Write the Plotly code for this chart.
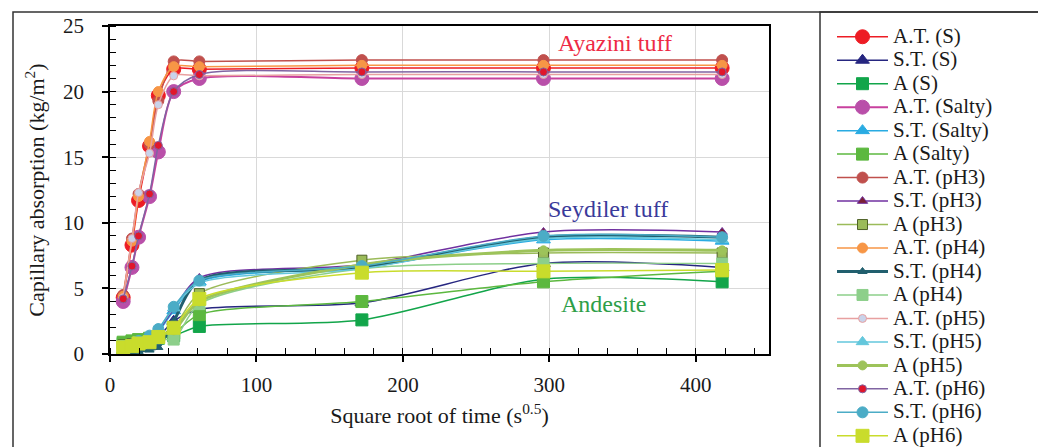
import plotly.graph_objects as go

# ---------------- data ----------------
x_time = [9, 15, 19.5, 27, 33, 43.5, 61, 172, 296, 418]

series_names = [
    "A.T. (S)", "S.T. (S)", "A (S)",
    "A.T. (Salty)", "S.T. (Salty)", "A (Salty)",
    "A.T. (pH3)", "S.T. (pH3)", "A (pH3)",
    "A.T. (pH4)", "S.T. (pH4)", "A (pH4)",
    "A.T. (pH5)", "S.T. (pH5)", "A (pH5)",
    "A.T. (pH6)", "S.T. (pH6)", "A (pH6)",
]

at_s     = [4.3, 8.3, 11.7, 15.85, 19.7, 21.7, 21.7, 21.8, 21.8, 21.8]
st_s     = [0.2, 0.4, 0.6, 0.9, 1.3, 2.5, 3.4, 3.9, 6.9, 6.6]
a_s      = [0.8, 0.9, 1.0, 1.1, 1.2, 1.4, 2.1, 2.6, 5.7, 5.5]
at_salty = [4.0, 6.6, 8.9, 12.0, 15.4, 20.0, 21.0, 21.0, 21.0, 21.0]
st_salty = [0.3, 0.6, 0.9, 1.2, 1.7, 3.3, 5.5, 6.6, 8.7, 8.6]
a_salty  = [0.9, 1.0, 1.1, 1.2, 1.3, 1.6, 3.0, 4.0, 5.5, 6.3]
at_ph3   = [4.5, 8.8, 12.2, 16.0, 19.3, 22.3, 22.3, 22.4, 22.4, 22.4]
st_ph3   = [0.2, 0.5, 0.8, 1.2, 1.8, 3.4, 5.8, 6.8, 9.3, 9.3]
a_ph3    = [0.7, 0.8, 0.9, 1.1, 1.4, 2.0, 4.6, 7.15, 7.7, 7.7]
at_ph4   = [4.4, 8.6, 12.0, 16.2, 20.0, 21.9, 21.9, 22.0, 22.0, 22.0]
st_ph4   = [0.0, 0.1, 0.2, 0.3, 0.5, 2.5, 5.6, 6.6, 8.9, 8.9]
a_ph4    = [0.6, 0.7, 0.9, 1.0, 1.2, 1.1, 3.8, 6.5, 6.9, 6.9]
at_ph5   = [4.3, 8.8, 12.3, 15.3, 19.0, 21.2, 21.2, 21.3, 21.3, 21.3]
st_ph5   = [0.3, 0.6, 1.0, 1.3, 1.9, 3.5, 5.4, 6.5, 8.8, 8.7]
a_ph5    = [0.6, 0.8, 1.0, 1.1, 1.4, 1.8, 4.0, 6.8, 7.9, 7.9]
at_ph6   = [4.2, 6.7, 9.0, 12.2, 15.9, 20.0, 21.3, 21.5, 21.5, 21.5]
st_ph6   = [0.3, 0.7, 1.0, 1.4, 1.9, 3.6, 5.6, 6.7, 9.0, 8.9]
a_ph6    = [0.5, 0.6, 0.8, 0.9, 1.3, 2.0, 4.2, 6.2, 6.3, 6.4]

series_values = [
    at_s, st_s, a_s,
    at_salty, st_salty, a_salty,
    at_ph3, st_ph3, a_ph3,
    at_ph4, st_ph4, a_ph4,
    at_ph5, st_ph5, a_ph5,
    at_ph6, st_ph6, a_ph6,
]

x_ticks = [0, 100, 200, 300, 400]
y_ticks = [0, 5, 10, 15, 20, 25]

# ---------------- styles ----------------
# (line colour, line width, marker symbol, marker size, marker fill, marker border)
styles = [
    ("#ED1C24", 1.5, "circle", 14, "#ED1C24", "#ED1C24"),
    ("#262680", 1.5, "triangle-up", 12, "#262680", "#262680"),
    ("#12A54A", 1.5, "square", 12, "#12A54A", "#12A54A"),
    ("#C8409E", 2.0, "circle", 14, "#B94FA9", "#B94FA9"),
    ("#29ABE2", 1.5, "triangle-up", 12, "#29ABE2", "#29ABE2"),
    ("#5CB83F", 1.5, "square", 12, "#5CB83F", "#5CB83F"),
    ("#C0504D", 1.5, "circle", 11, "#C0504D", "#C0504D"),
    ("#7030A0", 1.5, "triangle-up", 9, "#7B2035", "#7030A0"),
    ("#9BBB59", 1.5, "square", 10, "#9BBB59", "#4F6228"),
    ("#F79646", 1.5, "circle", 10, "#F79646", "#F79646"),
    ("#215F6E", 3.0, "triangle-up", 8, "#215F6E", "#215F6E"),
    ("#8DCF8A", 1.5, "square", 11, "#8DCF8A", "#8DCF8A"),
    ("#E8A0A0", 1.5, "circle", 8, "#C9D3EA", "#E8A0A0"),
    ("#63C7DC", 1.5, "triangle-up", 11, "#63C7DC", "#63C7DC"),
    ("#9DC35A", 3.0, "circle", 9, "#9DC35A", "#9DC35A"),
    ("#8064A2", 1.5, "circle", 8, "#E0162B", "#8064A2"),
    ("#4BACC6", 1.5, "circle", 11, "#4BACC6", "#4BACC6"),
    ("#C9DC2C", 1.5, "square", 13, "#C9DC2C", "#C9DC2C"),
]

SERIF = "Liberation Serif"
LEG_TEXT_PX = 21

fig = go.Figure()
for name, vals, st in zip(series_names, series_values, styles):
    lc, lw, sym, ms, mf, mb = st
    fig.add_trace(go.Scatter(
        x=x_time, y=vals, mode="lines+markers",
        name='<span style="font-size:%dpx">%s</span>' % (LEG_TEXT_PX, name),
        line=dict(color=lc, width=lw, shape="spline", smoothing=0.8),
        marker=dict(symbol=sym, size=ms, color=mf, line=dict(color=mb, width=1)),
    ))

# page body has an 8 px margin, so the figure is drawn 8 px in from the window corner
OFF = 8
W, H = 1046 - OFF, 447 - OFF
L, R, T, B = 110 - OFF, 769 - OFF, 26 - OFF, 354 - OFF
pw, ph = R - L, B - T

def px_x(p):
    return (p - OFF - L) / pw

def px_y(p):
    return (B - (p - OFF)) / ph

fig.update_layout(
    width=W, height=H,
    margin=dict(l=L, r=W - R, t=T, b=H - B, pad=0, autoexpand=False),
    paper_bgcolor="white", plot_bgcolor="white",
    font=dict(family=SERIF, size=21, color="#1a1a1a"),
    showlegend=True,
    legend=dict(
        xref="container", yref="container",
        x=(832 - OFF) / W, y=1 - (20 - OFF) / H, xanchor="left", yanchor="top",
        font=dict(family=SERIF, size=15.75, color="#1a1a1a"),
        itemwidth=51, tracegroupgap=0, bgcolor="rgba(0,0,0,0)",
        borderwidth=0, itemclick=False,
    ),
    xaxis=dict(
        range=[0, 450], tickvals=x_ticks, ticks="outside", ticklen=6,
        tickcolor="black", tickwidth=1.5, ticklabelstandoff=5,
        showline=True, linecolor="black", linewidth=1.5, mirror=True,
        showgrid=True, gridcolor="#D9D9D9", gridwidth=1.2, zeroline=False,
        minor=dict(dtick=20, ticks="inside", ticklen=6, tickcolor="black",
                   tickwidth=1.2, showgrid=False),
        title=dict(text="Square root of time (s<sup>0.5</sup>)", standoff=12,
                   font=dict(family=SERIF, size=22)),
        tickfont=dict(family=SERIF, size=21),
    ),
    yaxis=dict(
        range=[0, 25], tickvals=y_ticks, ticks="outside", ticklen=6,
        tickcolor="black", tickwidth=1.5, ticklabelstandoff=14,
        showline=True, linecolor="black", linewidth=1.5, mirror=True,
        showgrid=True, gridcolor="#D9D9D9", gridwidth=1.2, zeroline=False,
        minor=dict(dtick=1, ticks="inside", ticklen=6, tickcolor="black",
                   tickwidth=1.2, showgrid=False),
        title=dict(text="Capillary absorption (kg/m<sup>2</sup>)", standoff=12,
                   font=dict(family=SERIF, size=22)),
        tickfont=dict(family=SERIF, size=21),
    ),
    shapes=[
        dict(type="rect", xref="paper", yref="paper",
             x0=px_x(13), x1=px_x(1043), y0=px_y(470), y1=px_y(12),
             line=dict(color="#333333", width=1.5), fillcolor="rgba(0,0,0,0)",
             layer="below"),
        dict(type="rect", xref="paper", yref="paper",
             x0=px_x(820), x1=px_x(1043), y0=px_y(470), y1=px_y(12),
             line=dict(color="#333333", width=1.5), fillcolor="rgba(0,0,0,0)",
             layer="below"),
    ],
    annotations=[
        dict(x=345, y=23.7, xref="x", yref="y", text="Ayazini tuff",
             showarrow=False, font=dict(family=SERIF, size=24, color="#EE2A45")),
        dict(x=340, y=11.05, xref="x", yref="y", text="Seydiler tuff",
             showarrow=False, font=dict(family=SERIF, size=24, color="#3A3A9A")),
        dict(x=337, y=3.8, xref="x", yref="y", text="Andesite",
             showarrow=False, font=dict(family=SERIF, size=24, color="#2E9E48")),
    ],
)

try:
    fig.update_layout(legend_maxheight=2000)
except Exception:
    pass

fig.write_html("out.html")
